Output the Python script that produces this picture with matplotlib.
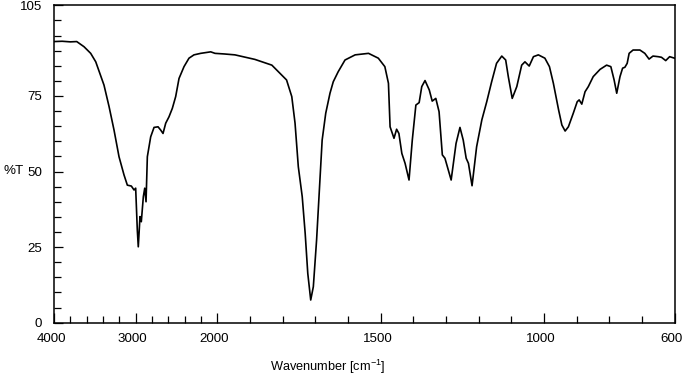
import matplotlib
matplotlib.use('Agg')
import matplotlib.pyplot as plt
import numpy as np
from matplotlib.transforms import ScaledTranslation

plt.rcParams['font.family'] = ['Liberation Sans', 'DejaVu Sans']
plt.rcParams['mathtext.fontset'] = 'custom'
plt.rcParams['mathtext.rm'] = 'Liberation Sans'
plt.rcParams['mathtext.default'] = 'regular'

# IR spectrum (wavenumber in cm-1, %T)
wavenumber = [4000, 3900, 3800, 3722, 3633, 3551, 3489, 3388, 3326, 3265, 3204, 3143,
              3102, 3053, 3020, 3000, 2980, 2968, 2947, 2931, 2906, 2889, 2873, 2857,
              2816, 2775, 2726, 2693, 2665, 2632, 2592, 2551, 2510, 2469, 2408, 2347,
              2286, 2204, 2081, 2028, 1979, 1946, 1885, 1833, 1813, 1788, 1772, 1762,
              1752, 1740, 1731, 1723, 1714, 1706, 1696, 1686, 1679, 1668, 1655, 1645,
              1630, 1609, 1578, 1537, 1507, 1487, 1476, 1471, 1459, 1451, 1444, 1435,
              1425, 1413, 1403, 1392, 1382, 1374, 1364, 1351, 1342, 1331, 1321, 1311,
              1303, 1284, 1269, 1257, 1247, 1238, 1231, 1220, 1206, 1190, 1175, 1160,
              1145, 1129, 1117, 1109, 1097, 1083, 1068, 1058, 1045, 1032, 1017, 997,
              983, 971, 955, 945, 935, 925, 910, 898, 892, 884, 874, 864, 849, 828,
              808, 795, 785, 777, 767, 759, 752, 745, 739, 727, 706, 691, 678, 666,
              650, 640, 627, 615, 600]
transmittance = [93.0, 93.1, 92.9, 93.0, 91.3, 89.1, 86.3, 78.6, 71.5, 63.7, 54.9, 48.9,
                 45.5, 45.2, 43.9, 44.5, 30.7, 25.1, 35.1, 33.4, 41.7, 44.5, 40.0, 54.9,
                 61.5, 64.6, 64.8, 63.7, 62.6, 66.0, 68.1, 70.9, 74.8, 80.8, 84.7, 87.5,
                 88.6, 89.1, 89.6, 89.1, 88.9, 88.6, 87.1, 85.2, 83.0, 80.3, 74.8, 66.0,
                 51.6, 41.7, 29.6, 16.3, 7.5, 11.9, 27.4, 47.2, 60.4, 69.3, 75.9, 79.7,
                 83.0, 86.9, 88.6, 89.1, 87.5, 84.7, 79.2, 64.8, 61.0, 64.0, 62.6, 56.0,
                 52.7, 47.2, 60.4, 72.0, 72.8, 78.1, 80.1, 77.0, 73.3, 74.2, 69.8, 55.5,
                 54.4, 47.2, 59.3, 64.6, 60.4, 54.4, 52.7, 45.3, 58.2, 67.1, 73.1, 79.7,
                 85.8, 88.2, 86.9, 81.4, 74.2, 78.1, 85.2, 86.3, 84.9, 88.0, 88.6, 87.5,
                 84.7, 79.2, 70.4, 65.4, 63.4, 64.8, 69.3, 73.1, 73.7, 72.3, 76.4, 78.1,
                 81.4, 83.8, 85.2, 84.7, 80.3, 75.9, 81.4, 84.2, 84.5, 85.8, 89.1, 90.2,
                 90.2, 89.1, 87.2, 88.2, 88.0, 87.8, 86.7, 88.0, 87.5]

x_major = [4000, 3000, 2000, 1500, 1000, 600]
x_minor = [3800, 3600, 3400, 3200, 2800, 2600, 2400, 2200, 1900, 1800, 1700, 1600,
           1400, 1300, 1200, 1100, 900, 800, 700]
y_major = [0, 25, 50, 75, 105]
y_minor = [5, 10, 15, 20, 30, 35, 40, 45, 55, 60, 65, 70, 80, 85, 90, 95, 100]


def fwd(w):
    # axis is stretched 4x below 2000 cm-1
    w = np.asarray(w, dtype=float)
    return np.where(w <= 2000, w, 2000 + (w - 2000) / 4)


def inv(v):
    v = np.asarray(v, dtype=float)
    return np.where(v <= 2000, v, 2000 + (v - 2000) * 4)


fig = plt.figure(figsize=(6.83, 3.75), dpi=100)
ax = fig.add_axes([0.0791, 0.1395, 0.9085, 0.8464])
ax.set_xscale('function', functions=(fwd, inv))
ax.plot(wavenumber, transmittance, color='black', lw=1.2)

ax.set_xlim(4000, 600)
ax.set_ylim(0, 105)
ax.set_xticks(x_major)
ax.set_xticks(x_minor, minor=True)
ax.set_xticklabels([str(v) for v in x_major])
ax.set_yticks(y_major)
ax.set_yticks(y_minor, minor=True)
ax.set_yticklabels([str(v) for v in y_major])

ax.tick_params(axis='both', which='both', direction='in', labelsize=9.6, width=0.9,
               top=False, right=False)
ax.tick_params(axis='x', which='major', length=7, pad=7.5)
ax.tick_params(axis='x', which='minor', length=5)
ax.tick_params(axis='y', which='major', length=6.5, pad=8.5)
ax.tick_params(axis='y', which='minor', length=5)
for s in ax.spines.values():
    s.set_linewidth(1.1)

shift = ScaledTranslation(-3 / 100, 0, fig.dpi_scale_trans)
for lbl in ax.get_xticklabels():
    lbl.set_transform(lbl.get_transform() + shift)

ax.set_xlabel('Wavenumber [cm$^{-1}$]', fontsize=9.2)
ax.xaxis.set_label_coords(0.4416, -0.1386)
ax.xaxis.label.set_va('center')
ax.set_ylabel('%T', fontsize=9.6, rotation=0, ha='center', va='center')
ax.yaxis.set_label_coords(-0.0645, 0.478)

fig.savefig('out.png', dpi=100)
